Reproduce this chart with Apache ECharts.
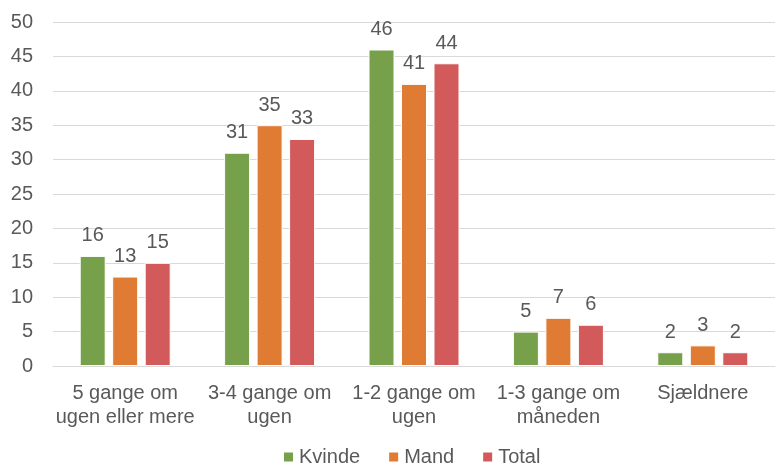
<!DOCTYPE html>
<html>
<head>
<meta charset="utf-8">
<script src="https://cdn.jsdelivr.net/npm/echarts@6/dist/echarts.min.js"></script>
<style>
  html, body { margin: 0; padding: 0; background: #fff; }
  #main { width: 781px; height: 465px; }
</style>
</head>
<body>
<div id="main"></div>
<script>
const categories = ["5 gange om\nugen eller mere", "3-4 gange om\nugen", "1-2 gange om\nugen", "1-3 gange om\nmåneden", "Sjældnere"];
const kvinde = [16, 31, 46, 5, 2];
const mand = [13, 35, 41, 7, 3];
const total = [15, 33, 44, 6, 2];

(() => {
  let myChart = echarts.init(document.querySelector("#main"));
  const font = "Liberation Sans, Arial, sans-serif";
  const txt = "#595959";
  const mk = (name, data, color) => ({
    name,
    type: "bar",
    data,
    barWidth: 26,
    barGap: "25%",
    itemStyle: { color, borderColor: "#fff", borderWidth: 1 },
    label: {
      show: true,
      position: "top",
      color: txt,
      fontFamily: font,
      fontSize: 20,
      distance: 10,
    },
  });
  let option = {
    animation: false,
    textStyle: { fontFamily: font },
    grid: { left: 53, right: 6, top: 22, bottom: 99, containLabel: false },
    legend: {
      top: 447,
      left: 282,
      padding: 0,
      itemWidth: 11,
      itemHeight: 11,
      itemGap: 27,
      icon: "rect",
      textStyle: { color: txt, fontSize: 20, fontFamily: font },
    },
    xAxis: {
      type: "category",
      data: categories,
      axisTick: { show: false },
      axisLine: { lineStyle: { color: "#d9d9d9" } },
      axisLabel: { color: txt, fontSize: 20, fontFamily: font, lineHeight: 24, margin: 15, interval: 0 },
    },
    yAxis: {
      type: "value",
      min: 0,
      max: 50,
      interval: 5,
      axisLabel: { color: txt, fontSize: 20, fontFamily: font, margin: 20 },
      splitLine: { lineStyle: { color: "#d9d9d9" } },
    },
    series: [
      mk("Kvinde", kvinde, "#77A04A"),
      mk("Mand", mand, "#DF7B33"),
      mk("Total", total, "#D25A5A"),
    ],
  };
  myChart.setOption(option);
  window.addEventListener("resize", () => {
    myChart.resize();
  });
})();
</script>
</body>
</html>
